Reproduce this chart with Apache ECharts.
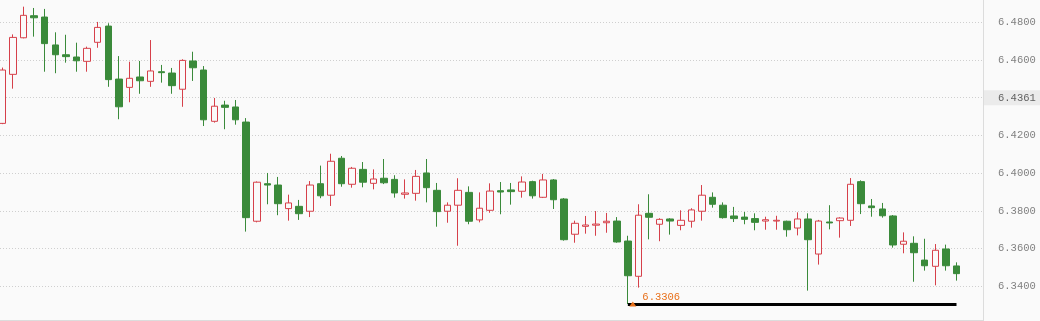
<!DOCTYPE html>
<html>
<head>
<meta charset="utf-8">
<script src="https://cdn.jsdelivr.net/npm/echarts@6/dist/echarts.min.js"></script>
<style>
  html, body { margin: 0; padding: 0; background: #fafafa; }
  #chart { width: 1040px; height: 321px; }
</style>
</head>
<body>
<div id="chart"></div>
<script>
// ---- data ----
const opens = [
  6.4264, 6.4524, 6.4718, 6.4835, 6.4828, 6.4680, 6.4628, 6.4616, 6.4593, 6.4694,
  6.4780, 6.4499, 6.4455, 6.4510, 6.4487, 6.4538, 6.4531, 6.4445, 6.4595, 6.4547,
  6.4275, 6.4361, 6.4351, 6.4271, 6.3745, 6.3944, 6.3937, 6.3812, 6.3824, 6.3798,
  6.3944, 6.3883, 6.4079, 6.3941, 6.4020, 6.3946, 6.3973, 6.3967, 6.3888, 6.3893,
  6.4001, 6.3909, 6.3798, 6.3830, 6.3898, 6.3752, 6.3803, 6.3907, 6.3911, 6.3904,
  6.3955, 6.3872, 6.3964, 6.3863, 6.3676, 6.3718, 6.3724, 6.3737, 6.3746, 6.3640,
  6.3453, 6.3787, 6.3729, 6.3757, 6.3723, 6.3745, 6.3798, 6.3872, 6.3830, 6.3773,
  6.3767, 6.3759, 6.3746, 6.3746, 6.3745, 6.3709, 6.3757, 6.3571, 6.3741, 6.3748,
  6.3750, 6.3955, 6.3826, 6.3810, 6.3773, 6.3623, 6.3628, 6.3539, 6.3506, 6.3598, 6.3508
];
const closes = [
  6.4547, 6.4720, 6.4837, 6.4824, 6.4687, 6.4628, 6.4618, 6.4596, 6.4662, 6.4773,
  6.4496, 6.4352, 6.4503, 6.4490, 6.4542, 6.4533, 6.4464, 6.4598, 6.4559, 6.4283,
  6.4355, 6.4349, 6.4283, 6.3764, 6.3952, 6.3937, 6.3838, 6.3842, 6.3785, 6.3937,
  6.3880, 6.4063, 6.3944, 6.4026, 6.3952, 6.3969, 6.3949, 6.3895, 6.3895, 6.3983,
  6.3923, 6.3796, 6.3830, 6.3909, 6.3745, 6.3814, 6.3905, 6.3900, 6.3902, 6.3953,
  6.3880, 6.3964, 6.3859, 6.3647, 6.3734, 6.3725, 6.3730, 6.3745, 6.3635, 6.3456,
  6.3777, 6.3766, 6.3755, 6.3746, 6.3750, 6.3805, 6.3883, 6.3835, 6.3764, 6.3759,
  6.3755, 6.3739, 6.3753, 6.3750, 6.3700, 6.3757, 6.3647, 6.3746, 6.3736, 6.3762,
  6.3941, 6.3838, 6.3817, 6.3774, 6.3619, 6.3639, 6.3578, 6.3509, 6.3591, 6.3509, 6.3467
];
const lows = [
  6.4260, 6.4448, 6.4715, 6.4724, 6.4538, 6.4530, 6.4586, 6.4538, 6.4538, 6.4665,
  6.4458, 6.4286, 6.4376, 6.4421, 6.4458, 6.4480, 6.4421, 6.4352, 6.4489, 6.4250,
  6.4268, 6.4233, 6.4257, 6.3690, 6.3739, 6.3835, 6.3777, 6.3748, 6.3752, 6.3767,
  6.3867, 6.3826, 6.3928, 6.3923, 6.3925, 6.3914, 6.3942, 6.3870, 6.3865, 6.3854,
  6.3845, 6.3716, 6.3737, 6.3615, 6.3729, 6.3739, 6.3790, 6.3782, 6.3833, 6.3870,
  6.3865, 6.3868, 6.3810, 6.3642, 6.3631, 6.3679, 6.3668, 6.3684, 6.3631, 6.3306,
  6.3393, 6.3649, 6.3639, 6.3674, 6.3697, 6.3711, 6.3748, 6.3817, 6.3759, 6.3741,
  6.3729, 6.3697, 6.3700, 6.3700, 6.3663, 6.3670, 6.3377, 6.3515, 6.3702, 6.3658,
  6.3720, 6.3783, 6.3769, 6.3764, 6.3605, 6.3575, 6.3424, 6.3483, 6.3405, 6.3483, 6.3430
];
const highs = [
  6.4560, 6.4736, 6.4883, 6.4876, 6.4871, 6.4747, 6.4734, 6.4692, 6.4671, 6.4802,
  6.4795, 6.4621, 6.4591, 6.4595, 6.4706, 6.4574, 6.4558, 6.4604, 6.4644, 6.4568,
  6.4399, 6.4384, 6.4388, 6.4292, 6.3956, 6.4001, 6.3980, 6.3886, 6.3858, 6.3958,
  6.4040, 6.4103, 6.4091, 6.4033, 6.4059, 6.4020, 6.4075, 6.3989, 6.3967, 6.4017,
  6.4075, 6.3948, 6.3845, 6.3973, 6.3930, 6.3898, 6.3946, 6.3953, 6.3948, 6.3983,
  6.3960, 6.3996, 6.3969, 6.3868, 6.3748, 6.3773, 6.3799, 6.3789, 6.3767, 6.3668,
  6.3835, 6.3888, 6.3761, 6.3761, 6.3803, 6.3814, 6.3937, 6.3898, 6.3845, 6.3821,
  6.3794, 6.3787, 6.3769, 6.3774, 6.3748, 6.3792, 6.3787, 6.3752, 6.3830, 6.3766,
  6.3974, 6.3962, 6.3863, 6.3842, 6.3778, 6.3686, 6.3665, 6.3652, 6.3624, 6.3621, 6.3527
];
// 91 trading periods plus two empty slots at the right edge
const emptySlots = 2;
const categories = Array.from({ length: opens.length + emptySlots }, (_, i) => 'P' + (i + 1));
// y-axis ticks
const yMin = 6.32, yMax = 6.50, yStep = 0.02;
const highlightTick = 6.44;          // tick whose label is replaced by the current-price tag
const highlightText = '6.4361';

// ---- build ----
const candleData = opens.map((o, i) => [o, closes[i], lows[i], highs[i]]);
const minLow = Math.min.apply(null, lows);
const minIdx = lows.indexOf(minLow);
const lastIdx = opens.length - 1;

const chart = echarts.init(document.getElementById('chart'), null, { renderer: 'canvas' });
chart.setOption({
  animation: false,
  backgroundColor: '#fafafa',
  grid: { left: -3, right: 57, top: -15.4, bottom: -3, containLabel: false, outerBoundsMode: 'none' },
  xAxis: {
    type: 'category',
    data: categories,
    boundaryGap: true,
    offset: -4,
    axisLine: { show: true, lineStyle: { color: '#dcdcdc', width: 1 } },
    axisTick: { show: false },
    axisLabel: { show: false },
    splitLine: { show: false }
  },
  yAxis: {
    type: 'value',
    position: 'right',
    min: yMin,
    max: yMax,
    interval: yStep,
    axisLine: { show: true, lineStyle: { color: '#dcdcdc', width: 1 } },
    axisTick: { show: false },
    splitLine: { show: true, lineStyle: { color: '#cfcfcf', type: [1, 2], width: 1 } },
    axisLabel: {
      margin: 1,
      showMinLabel: false,
      showMaxLabel: false,
      formatter: function (v) {
        if (Math.abs(v - highlightTick) < 1e-7) return '{h|' + highlightText + '}';
        return '{n|' + v.toFixed(4) + '}';
      },
      rich: {
        n: { color: '#808080', fontFamily: 'Liberation Mono', fontSize: 10.5, padding: [2, 4, 2, 14] },
        h: { color: '#606060', fontFamily: 'Liberation Mono', fontSize: 10.5, padding: [2, 6, 2, 14], backgroundColor: '#ebebeb' }
      }
    }
  },
  series: [{
    type: 'candlestick',
    data: candleData,
    barWidth: 7,
    itemStyle: {
      color: '#fafafa',
      color0: '#3a8a3a',
      borderColor: '#d6404a',
      borderColor0: '#3a8a3a',
      borderWidth: 1
    },
    markLine: {
      silent: true,
      symbol: ['none', 'none'],
      label: { show: false },
      lineStyle: { color: '#000000', width: 3, type: 'solid' },
      data: [[
        { coord: [categories[minIdx], minLow] },
        { coord: [categories[lastIdx], minLow] }
      ]]
    },
    markPoint: {
      silent: true,
      symbol: 'triangle',
      symbolSize: [7, 5],
      symbolOffset: [5, 0],
      itemStyle: { color: '#e8701a' },
      label: {
        show: true,
        position: 'right',
        distance: 5,
        offset: [1, -7],
        color: '#e8701a',
        fontFamily: 'Liberation Mono',
        fontSize: 10.5,
        formatter: function (p) { return Number(p.value).toFixed(4); }
      },
      data: [{ type: 'min', valueDim: 'lowest' }]
    }
  }]
});
</script>
</body>
</html>
